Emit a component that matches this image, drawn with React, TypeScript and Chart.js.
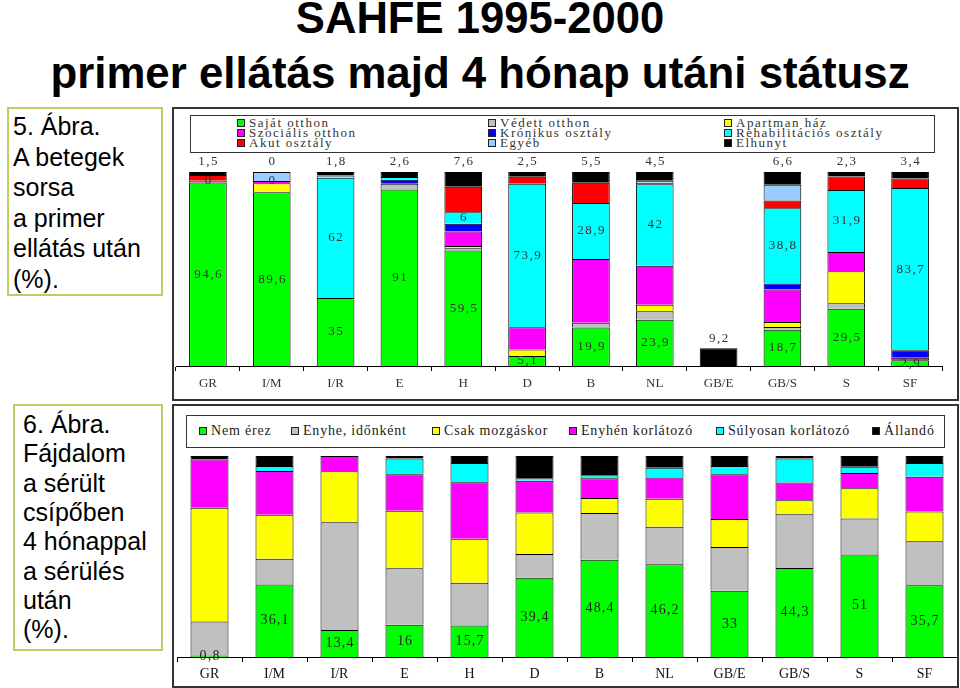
import React, { useEffect, useRef } from 'react';
import { Chart, registerables } from 'chart.js';
Chart.register(...registerables);

// ---------- data ----------
const categories = ['GR', 'I/M', 'I/R', 'E', 'H', 'D', 'B', 'NL', 'GB/E', 'GB/S', 'S', 'SF'];

// Chart 1 (5. Ábra) – stacked from bottom to top
const sajatOtthon = [94.6, 89.6, 35, 91, 59.5, 5.1, 19.9, 23.9, 0, 18.7, 29.5, 2.9];
const vedettOtthon = [0, 0, 0, 3.0, 1.2, 0, 2.4, 4.3, 0, 1.4, 2.9, 0];
const apartmanHaz = [0, 4.6, 0, 0, 1.2, 3.4, 0, 3.4, 0, 2.6, 16.4, 0];
const szocialisOtthon = [0.9, 1.2, 0, 0, 7.4, 11.5, 32.8, 20.1, 0, 16.7, 10.0, 1.4];
const kronikusOsztaly = [0, 0, 0, 2.0, 4.0, 0, 0, 0, 0, 3.1, 0, 3.8];
const rehabOsztaly = [0, 0, 62, 1.4, 6, 73.9, 28.9, 42, 0, 38.8, 31.9, 83.7];
const akutOsztaly = [3.0, 0, 0, 0, 13.1, 3.6, 10.5, 0.8, 0, 4.0, 7.0, 4.8];
const egyeb = [0, 4.6, 1.2, 0, 0, 0, 0, 1.0, 0, 8.1, 0, 0];
const elhunyt = [1.5, 0, 1.8, 2.6, 7.6, 2.5, 5.5, 4.5, 9.2, 6.6, 2.3, 3.4];

// which values are printed in chart 1
const sajatShown = [true, true, true, true, true, true, true, true, false, true, true, true];
const kronikusShown = [true, true, false, false, false, false, false, false, false, false, false, false];
const rehabShown = [false, false, true, false, true, true, true, true, false, true, true, true];
const elhunytShown = [true, true, true, true, true, true, true, true, true, true, true, true];

// Chart 2 (6. Ábra)
const nemErez = [0.8, 36.1, 13.4, 16, 15.7, 39.4, 48.4, 46.2, 33, 44.3, 51, 35.7];
const enyheIdonkent = [16.9, 12.8, 53.6, 28.2, 21.2, 11.8, 23.2, 18.6, 21.7, 26.7, 17.9, 21.9];
const csakMozgaskor = [56.6, 21.9, 25.4, 28.5, 21.9, 20.7, 7.5, 13.9, 13.9, 7.0, 15.1, 14.8];
const enyhenKorlatozo = [23.9, 21.7, 7.6, 18.2, 28.2, 15.8, 9.8, 10.6, 22.3, 8.8, 7.5, 17.3];
const sulyosanKorlatozo = [0, 2.5, 0, 7.8, 9.5, 1.2, 1.5, 4.8, 4.1, 11.9, 3.2, 6.8];
const allando = [1.8, 5.0, 0, 1.3, 3.5, 11.1, 9.6, 5.9, 5.0, 1.3, 5.3, 3.5];
const nemErezShown = [true, true, true, true, true, true, true, true, true, true, true, true];

const legend1Names = [
  'Saját otthon', 'Védett otthon', 'Apartman ház',
  'Szociális otthon', 'Krónikus osztály', 'Rehabilitációs osztály',
  'Akut osztály', 'Egyéb', 'Elhunyt',
];
const legend2Names = ['Nem érez', 'Enyhe, időnként', 'Csak mozgáskor', 'Enyhén korlátozó', 'Súlyosan korlátozó', 'Állandó'];

// ---------- styles ----------
const C = {
  green: '#00ff00', gray: '#c0c0c0', yellow: '#ffff00', magenta: '#ff00ff', blue: '#0000ff',
  cyan: '#00ffff', red: '#ff0000', lightBlue: '#99ccff', black: '#000000',
};
const colors1 = [C.green, C.gray, C.yellow, C.magenta, C.blue, C.cyan, C.red, C.lightBlue, C.black];
const colors2 = [C.green, C.gray, C.yellow, C.magenta, C.cyan, C.black];
const SERIF = "'Liberation Serif', 'Times New Roman', serif";
const SANS = "'Liberation Sans', Arial, sans-serif";

const fmt = (v: number) => String(v).replace('.', ',');

type Spec = { ds: number; mode: 'center' | 'top'; show: boolean[] };

function labelPlugin(id: string, specs: Spec[], font: string, color: string, spacing: number, topGap: number) {
  return {
    id,
    afterDatasetsDraw(chart: any) {
      const ctx = chart.ctx as CanvasRenderingContext2D;
      ctx.save();
      ctx.font = font;
      ctx.fillStyle = color;
      ctx.textAlign = 'center';
      ctx.textBaseline = 'middle';
      (ctx as any).letterSpacing = spacing + 'px';
      for (const s of specs) {
        const meta = chart.getDatasetMeta(s.ds);
        const data = chart.data.datasets[s.ds].data as number[];
        meta.data.forEach((el: any, i: number) => {
          if (!s.show[i]) return;
          const p = el.getProps(['x', 'y', 'base'], true);
          const y = s.mode === 'top' ? p.y - topGap : (p.y + p.base) / 2;
          ctx.fillText(fmt(data[i]), p.x + spacing / 2, y);
        });
      }
      ctx.restore();
    },
  };
}

function xScale(fontSize: number, color: string, height: number, padding: number) {
  return {
    stacked: true,
    offset: true,
    grid: { offset: true, drawOnChartArea: false, drawTicks: true, tickLength: 5, color: '#000', lineWidth: 1 },
    border: { display: true, color: '#000', width: 1 },
    ticks: { color, font: { family: SERIF, size: fontSize }, padding, maxRotation: 0, autoSkip: false },
    afterFit: (s: any) => { s.height = height; },
  };
}

function ChartOne() {
  const ref = useRef<HTMLCanvasElement>(null);
  useEffect(() => {
    const series = [sajatOtthon, vedettOtthon, apartmanHaz, szocialisOtthon, kronikusOsztaly, rehabOsztaly, akutOsztaly, egyeb, elhunyt];
    const chart = new Chart(ref.current!, {
      type: 'bar',
      data: {
        labels: categories,
        datasets: series.map((d, i) => ({
          label: legend1Names[i],
          data: d,
          backgroundColor: colors1[i],
          borderColor: '#000',
          borderWidth: 1,
          barPercentage: 0.59,
          categoryPercentage: 1,
        })),
      },
      options: {
        animation: false,
        responsive: false,
        maintainAspectRatio: false,
        layout: { padding: { left: 2, right: 15, top: 63, bottom: 0 } },
        plugins: { legend: { display: false }, tooltip: { enabled: false } },
        scales: {
          x: xScale(13, '#333', 33, 5) as any,
          y: { stacked: true, display: false, min: 0, max: 100 },
        },
      },
      plugins: [labelPlugin('lbl1', [
        { ds: 0, mode: 'center', show: sajatShown },
        { ds: 4, mode: 'center', show: kronikusShown },
        { ds: 5, mode: 'center', show: rehabShown },
        { ds: 8, mode: 'top', show: elhunytShown },
      ], `13px ${SERIF}`, '#333', 1.5, 10)],
    });
    return () => chart.destroy();
  }, []);
  return <canvas ref={ref} width={783} height={290} style={{ position: 'absolute', left: 174, top: 109, width: 783, height: 290 }} />;
}

function ChartTwo() {
  const ref = useRef<HTMLCanvasElement>(null);
  useEffect(() => {
    const series = [nemErez, enyheIdonkent, csakMozgaskor, enyhenKorlatozo, sulyosanKorlatozo, allando];
    const chart = new Chart(ref.current!, {
      type: 'bar',
      data: {
        labels: categories,
        datasets: series.map((d, i) => ({
          label: legend2Names[i],
          data: d,
          backgroundColor: colors2[i],
          borderColor: '#000',
          borderWidth: 1,
          barPercentage: 0.585,
          categoryPercentage: 1,
        })),
      },
      options: {
        animation: false,
        responsive: false,
        maintainAspectRatio: false,
        layout: { padding: { left: 3, right: 0, top: 50, bottom: 0 } },
        plugins: { legend: { display: false }, tooltip: { enabled: false } },
        scales: {
          x: xScale(14, '#111', 28, 4) as any,
          y: { stacked: true, display: false, min: 0, max: 100 },
        },
      },
      plugins: [labelPlugin('lbl2', [{ ds: 0, mode: 'center', show: nemErezShown }], `14px ${SERIF}`, '#222', 1.2, 10)],
    });
    return () => chart.destroy();
  }, []);
  return <canvas ref={ref} width={783} height={279} style={{ position: 'absolute', left: 174, top: 406, width: 783, height: 279 }} />;
}

const abs = (s: React.CSSProperties): React.CSSProperties => ({ position: 'absolute', ...s });

function Marker({ x, y, color }: { x: number; y: number; color: string }) {
  return <div style={abs({ left: x - 4, top: y - 4, width: 8, height: 8, background: color, border: '1px solid #222', boxSizing: 'border-box' })} />;
}

function Legend1() {
  const colX = [241, 492, 728];
  const rowY = [123, 133, 143];
  return (
    <>
      <div style={abs({ left: 190, top: 115, width: 745, height: 38, border: '1.5px solid #333', boxSizing: 'border-box' })} />
      {legend1Names.map((n, i) => {
        const cx = colX[i % 3];
        const cy = rowY[Math.floor(i / 3)];
        return (
          <React.Fragment key={n}>
            <Marker x={cx} y={cy} color={colors1[i]} />
            <div style={abs({ left: cx + 8, top: cy - 7, font: `13px ${SERIF}`, lineHeight: '13px', letterSpacing: '1.5px', color: '#333', whiteSpace: 'nowrap' })}>{n}</div>
          </React.Fragment>
        );
      })}
    </>
  );
}

function Legend2() {
  const xs = [203, 295, 436, 573, 720, 876];
  const cy = 431;
  return (
    <>
      <div style={abs({ left: 186, top: 415, width: 759, height: 33, border: '1.5px solid #333', boxSizing: 'border-box' })} />
      {legend2Names.map((n, i) => (
        <React.Fragment key={n}>
          <Marker x={xs[i]} y={cy} color={colors2[i]} />
          <div style={abs({ left: xs[i] + 8, top: cy - 8, font: `14px ${SERIF}`, lineHeight: '15px', letterSpacing: '0.8px', color: '#222', whiteSpace: 'nowrap' })}>{n}</div>
        </React.Fragment>
      ))}
    </>
  );
}

function SideBox({ left, top, width, height, lines, textLeft, firstTop, pitch }: { left: number; top: number; width: number; height: number; lines: string[]; textLeft: number; firstTop: number; pitch: number }) {
  return (
    <>
      <div style={abs({ left, top, width, height, border: '2px solid #bccd66', boxSizing: 'border-box' })} />
      {lines.map((l, i) => (
        <div key={i} style={abs({ left: textLeft, top: firstTop + i * pitch, font: `25px ${SANS}`, lineHeight: '30px', color: '#000', whiteSpace: 'nowrap' })}>{l}</div>
      ))}
    </>
  );
}

export default function App() {
  return (
    <div style={abs({ left: 0, top: 0, width: 960, height: 688, background: '#fff', overflow: 'hidden' })}>
      <div style={abs({ left: 0, top: -3, width: 960, textAlign: 'center', font: `bold 43.6px ${SANS}`, lineHeight: '43px', color: '#000' })}>SAHFE 1995-2000</div>
      <div style={abs({ left: 0, top: 51, width: 960, textAlign: 'center', font: `bold 43.8px ${SANS}`, lineHeight: '43px', color: '#000' })}>primer ellátás majd 4 hónap utáni státusz</div>

      <SideBox left={7} top={107} width={156} height={189} textLeft={13} firstTop={111} pitch={30.6}
        lines={['5. Ábra.', 'A betegek', 'sorsa', 'a primer', 'ellátás után', '(%).']} />
      <SideBox left={13} top={404} width={150} height={247} textLeft={23} firstTop={409} pitch={29.3}
        lines={['6. Ábra.', 'Fájdalom', 'a sérült', 'csípőben', '4 hónappal', 'a sérülés', 'után', '(%).']} />

      <div style={abs({ left: 172, top: 107, width: 787, height: 294, border: '2px solid #333', boxSizing: 'border-box' })} />
      <div style={abs({ left: 172, top: 404, width: 787, height: 284, border: '2px solid #333', boxSizing: 'border-box' })} />

      <Legend1 />
      <ChartOne />
      <Legend2 />
      <ChartTwo />
    </div>
  );
}
